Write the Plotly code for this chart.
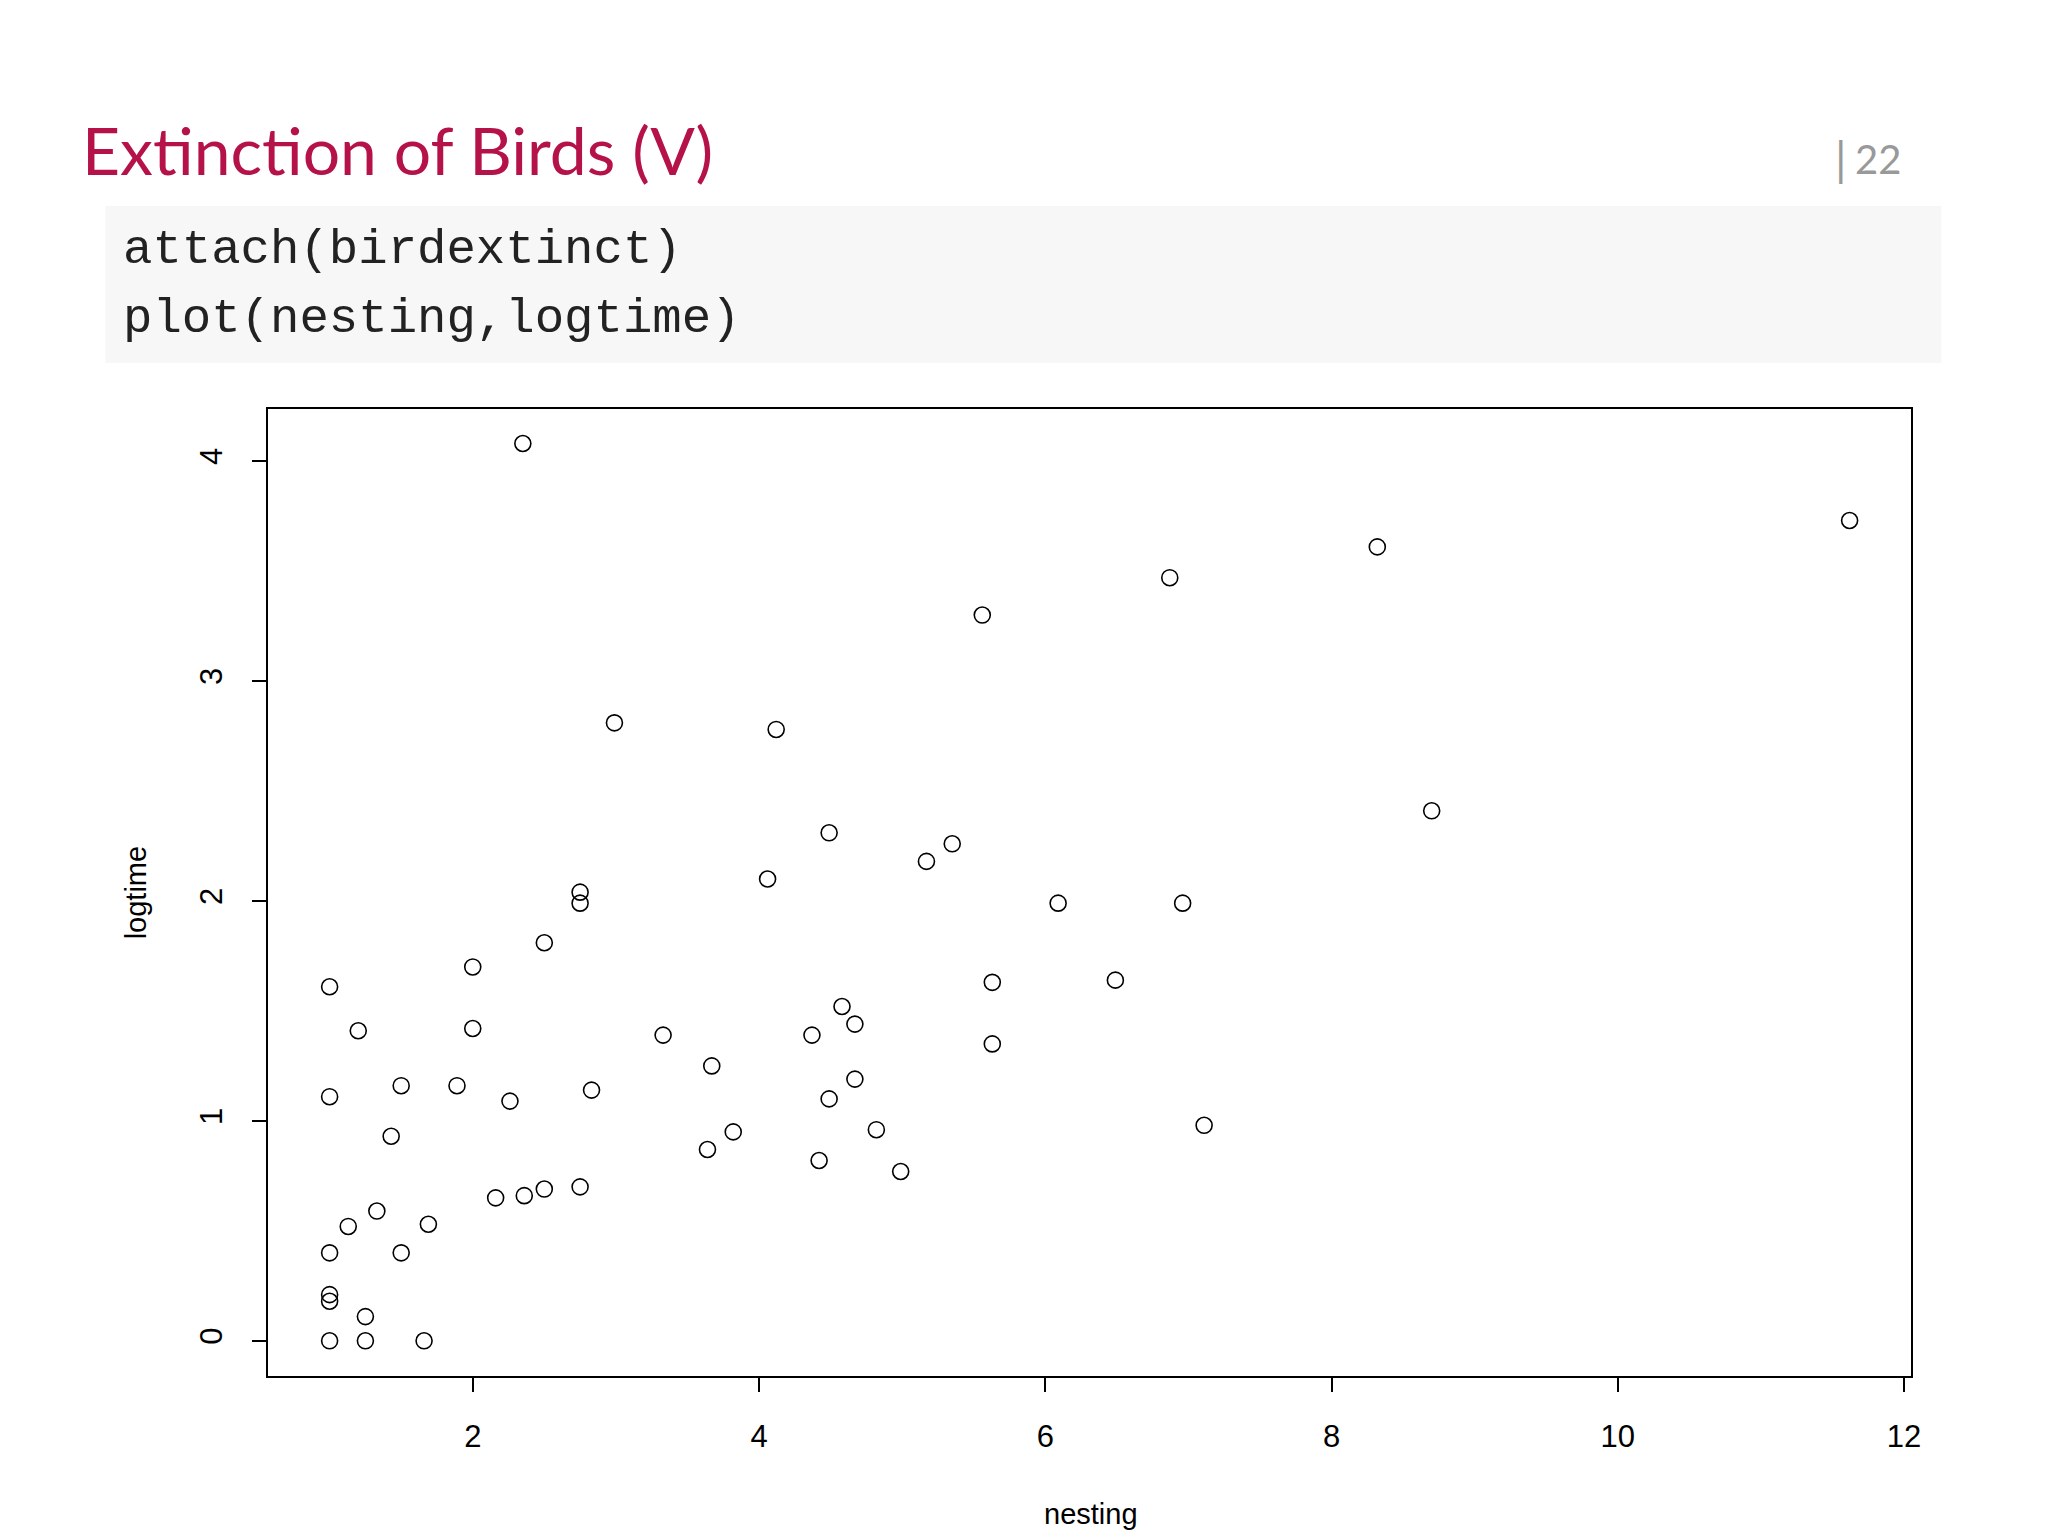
import plotly.graph_objects as go

W, H = 2048, 1536

nesting = [2.35, 11.62, 8.32, 6.87, 5.56, 2.99, 4.12, 8.70, 4.49, 5.35, 5.17, 4.06,
           2.75, 2.75, 6.09, 6.96, 2.50, 2.00, 1.00, 5.63, 6.49, 4.58, 1.20, 2.00,
           4.67, 3.33, 4.37, 5.63, 3.67, 4.67, 1.50, 1.89, 2.83, 1.00, 2.26, 4.49,
           1.43, 4.82, 7.11, 3.82, 3.64, 4.42, 4.99, 2.75, 2.50, 2.36, 2.16, 1.33,
           1.69, 1.13, 1.00, 1.50, 1.00, 1.00, 1.25, 1.00, 1.25, 1.66]
logtime = [4.08, 3.73, 3.61, 3.47, 3.30, 2.81, 2.78, 2.41, 2.31, 2.26, 2.18, 2.10,
           2.04, 1.99, 1.99, 1.99, 1.81, 1.70, 1.61, 1.63, 1.64, 1.52, 1.41, 1.42,
           1.44, 1.39, 1.39, 1.35, 1.25, 1.19, 1.16, 1.16, 1.14, 1.11, 1.09, 1.10,
           0.93, 0.96, 0.98, 0.95, 0.87, 0.82, 0.77, 0.70, 0.69, 0.66, 0.65, 0.59,
           0.53, 0.52, 0.40, 0.40, 0.21, 0.18, 0.11, 0.00, 0.00, 0.00]

x_ticks = [2, 4, 6, 8, 10, 12]
y_ticks = [0, 1, 2, 3, 4]


def px(x):
    return x / W


def py(y):
    return 1 - y / H


fig = go.Figure()
fig.add_trace(go.Scatter(
    x=nesting, y=logtime, mode="markers",
    marker=dict(symbol="circle-open", size=16, color="black", line=dict(width=1.6)),
    showlegend=False, hoverinfo="x+y"
))

axis_common = dict(showgrid=False, zeroline=False, showline=True, linecolor="black",
                   linewidth=1.5, mirror=True, ticks="outside", ticklen=14,
                   tickwidth=1.5, tickcolor="black", ticklabelstandoff=18,
                   tickfont=dict(family="Liberation Sans, Arial", size=31, color="black"))

fig.update_layout(
    width=W, height=H,
    margin=dict(l=0, r=0, t=0, b=0),
    paper_bgcolor="white", plot_bgcolor="white",
    xaxis=dict(domain=[px(261.5), px(1912.5)], range=[0.571, 12.05], tickvals=x_ticks,
               **axis_common),
    yaxis=dict(domain=[py(1368), py(401)], range=[-0.16, 4.237], tickvals=y_ticks,
               tickangle=-90, **axis_common),
    shapes=[dict(type="rect", xref="paper", yref="paper",
                 x0=px(98), x1=px(1943), y0=py(355), y1=py(198),
                 fillcolor="#f7f7f7", line=dict(width=0), layer="below")],
)

code_font = dict(family="Liberation Mono, DejaVu Sans Mono, monospace", size=49, color="#222")
annotations = [
    dict(text="Extinction of Birds (V)", x=px(72), y=py(142), xanchor="left", yanchor="middle",
         font=dict(family="Lato, Noto Sans", size=66, color="#b5124a")),
    dict(text="22", x=px(1904), y=py(151), xanchor="right", yanchor="middle",
         font=dict(family="Lato, Noto Sans", size=40, color="#999999")),
    dict(text="|", x=px(1842), y=py(151), xanchor="center", yanchor="middle",
         font=dict(family="Lato, Noto Sans", size=46, color="#999999")),
    dict(text="attach(birdextinct)", x=px(114), y=py(242), xanchor="left", yanchor="middle",
         font=code_font),
    dict(text="plot(nesting,logtime)", x=px(114), y=py(311), xanchor="left", yanchor="middle",
         font=code_font),
    dict(text="nesting", x=px(1088), y=py(1506), xanchor="center", yanchor="middle",
         font=dict(family="Liberation Sans, Arial", size=29, color="black")),
    dict(text="logtime", x=px(129), y=py(884), xanchor="center", yanchor="middle", textangle=-90,
         font=dict(family="Liberation Sans, Arial", size=29, color="black")),
]
for a in annotations:
    a.update(xref="paper", yref="paper", showarrow=False)
fig.update_layout(annotations=annotations)

fig.write_html("out.html")
